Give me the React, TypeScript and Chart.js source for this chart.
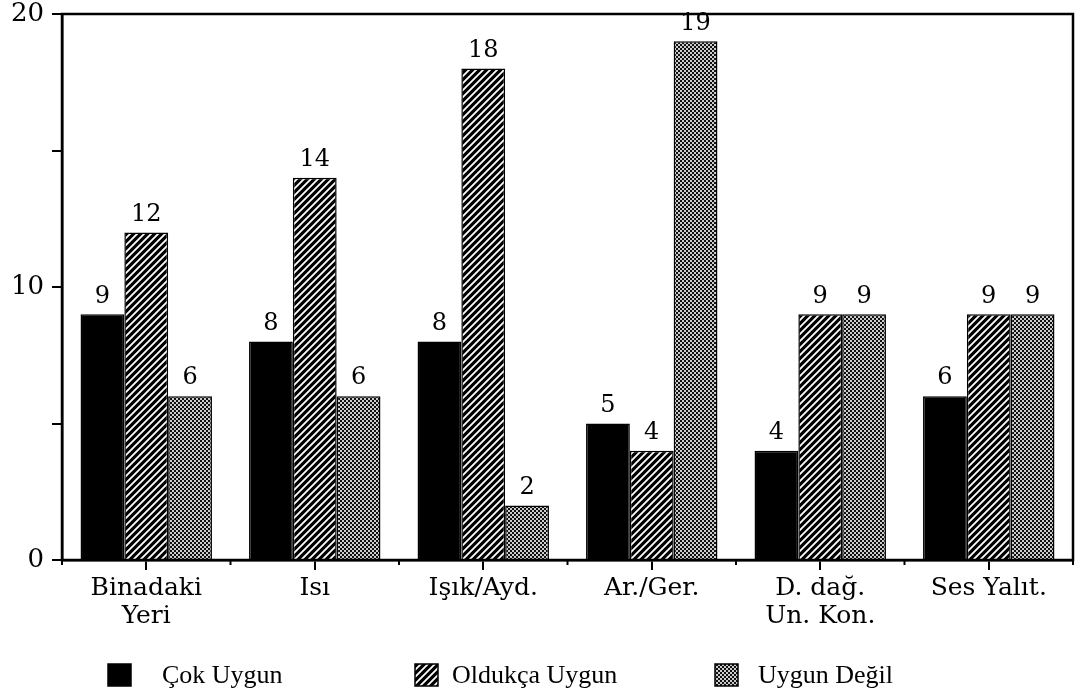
import React, { useEffect, useRef } from "react";
import { Chart, registerables } from "chart.js";

Chart.register(...registerables);

const categories: (string | string[])[] = [
  ["Binadaki", "Yeri"],
  "Isı",
  "Işık/Ayd.",
  "Ar./Ger.",
  ["D. dağ.", "Un. Kon."],
  "Ses Yalıt.",
];
const seriesNames = ["Çok Uygun", "Oldukça Uygun", "Uygun Değil"];
const cokUygun = [9, 8, 8, 5, 4, 6];
const oldukcaUygun = [12, 14, 18, 4, 9, 9];
const uygunDegil = [6, 6, 2, 19, 9, 9];
const yMin = 0;
const yMax = 20;
const yStep = 5;
const yLabelEvery = 10;

function hatchPattern(ctx: CanvasRenderingContext2D) {
  const s = 7;
  const c = document.createElement("canvas");
  c.width = s;
  c.height = s;
  const g = c.getContext("2d")!;
  g.fillStyle = "#000";
  g.fillRect(0, 0, s, s);
  g.strokeStyle = "#fff";
  g.lineWidth = 1.8;
  g.beginPath();
  g.moveTo(-1, s + 1);
  g.lineTo(s + 1, -1);
  g.moveTo(-1, 1);
  g.lineTo(1, -1);
  g.moveTo(s - 1, s + 1);
  g.lineTo(s + 1, s - 1);
  g.stroke();
  return ctx.createPattern(c, "repeat")!;
}

function checkerPattern(ctx: CanvasRenderingContext2D) {
  const c = document.createElement("canvas");
  c.width = 4;
  c.height = 4;
  const g = c.getContext("2d")!;
  g.fillStyle = "#ccc";
  g.fillRect(0, 0, 4, 4);
  g.fillStyle = "#111";
  g.fillRect(0, 0, 2, 2);
  g.fillRect(2, 2, 2, 2);
  return ctx.createPattern(c, "repeat")!;
}

export default function App() {
  const ref = useRef<HTMLCanvasElement | null>(null);

  useEffect(() => {
    const canvas = ref.current!;
    const ctx = canvas.getContext("2d")!;
    const fills = ["#000", hatchPattern(ctx), checkerPattern(ctx)];
    const values = [cokUygun, oldukcaUygun, uygunDegil];

    const framePlugin = {
      id: "frame",
      afterDraw(chart: any) {
        const { ctx, chartArea } = chart;
        ctx.save();
        ctx.strokeStyle = "#000";
        ctx.lineWidth = 2.5;
        ctx.strokeRect(chartArea.left, chartArea.top, chartArea.right - chartArea.left, chartArea.bottom - chartArea.top);
        const n = categories.length;
        const w = (chartArea.right - chartArea.left) / n;
        ctx.lineWidth = 2;
        ctx.beginPath();
        for (let i = 0; i <= n; i++) {
          const x = chartArea.left + i * w;
          ctx.moveTo(x, chartArea.bottom);
          ctx.lineTo(x, chartArea.bottom + 5);
        }
        ctx.stroke();
        ctx.restore();
      },
    };

    const valueLabels = {
      id: "valueLabels",
      afterDatasetsDraw(chart: any) {
        const { ctx } = chart;
        ctx.save();
        ctx.fillStyle = "#000";
        ctx.font = "24px 'DejaVu Serif'";
        ctx.textAlign = "center";
        ctx.textBaseline = "bottom";
        chart.data.datasets.forEach((ds: any, i: number) => {
          const meta = chart.getDatasetMeta(i);
          meta.data.forEach((bar: any, j: number) => {
            ctx.fillText(String(ds.data[j]), bar.x, bar.y - 6);
          });
        });
        ctx.restore();
      },
    };

    const legendItems = [
      { box: 108, text: 162 },
      { box: 415, text: 452 },
      { box: 715, text: 758 },
    ];
    const customLegend = {
      id: "customLegend",
      afterDraw(chart: any) {
        const { ctx } = chart;
        ctx.save();
        const cy = 675;
        chart.data.datasets.forEach((ds: any, i: number) => {
          const it = legendItems[i];
          ctx.fillStyle = ds.backgroundColor;
          ctx.fillRect(it.box, cy - 11, 23, 22);
          ctx.strokeStyle = "#000";
          ctx.lineWidth = 1.5;
          ctx.strokeRect(it.box, cy - 11, 23, 22);
          ctx.fillStyle = "#000";
          ctx.font = "26px 'Liberation Serif'";
          ctx.textAlign = "left";
          ctx.textBaseline = "middle";
          ctx.fillText(ds.label, it.text, cy + 1);
        });
        ctx.restore();
      },
    };

    const chart = new Chart(ctx, {
      type: "bar",
      data: {
        labels: categories,
        datasets: seriesNames.map((name, i) => ({
          label: name,
          data: values[i],
          backgroundColor: fills[i] as any,
          borderColor: "#000",
          borderWidth: 1.5,
          borderSkipped: "bottom",
          categoryPercentage: 0.78,
          barPercentage: 1,
        })),
      },
      options: {
        animation: false,
        responsive: false,
        layout: { padding: { left: 0, top: 14, right: 7, bottom: 0 } },
        plugins: {
          legend: { display: false },
          tooltip: { enabled: false },
        },
        scales: {
          x: {
            grid: {
              offset: false,
              drawOnChartArea: false,
              drawTicks: true,
              tickLength: 10,
              color: "#000",
              lineWidth: 2,
            },
            border: { display: true, color: "#000", width: 2.5 },
            ticks: {
              color: "#000",
              font: { family: "'DejaVu Serif'", size: 25, lineHeight: 1.1 },
              padding: 5,
              maxRotation: 0,
              autoSkip: false,
            },
            afterFit(scale: any) {
              scale.height = 133;
              scale.paddingLeft = 0;
              scale.paddingRight = 0;
            },
          },
          y: {
            min: yMin,
            max: yMax,
            grid: {
              drawOnChartArea: false,
              drawTicks: true,
              tickLength: 10,
              color: "#000",
              lineWidth: 2,
            },
            border: { display: true, color: "#000", width: 2.5 },
            ticks: {
              stepSize: yStep,
              color: "#000",
              font: { family: "'DejaVu Serif'", size: 26 },
              padding: 8,
              callback: (v: any) => (Number(v) % yLabelEvery === 0 ? String(v) : ""),
            },
            afterFit(scale: any) {
              scale.width = 62;
              scale.paddingTop = 0;
              scale.paddingBottom = 0;
            },
          },
        },
      },
      plugins: [framePlugin, valueLabels, customLegend],
    });
    return () => chart.destroy();
  }, []);

  return (
    <div style={{ position: "absolute", left: 0, top: 0, width: 1080, height: 693, background: "#fff" }}>
      <canvas ref={ref} width={1080} height={693} style={{ display: "block" }} />
    </div>
  );
}
